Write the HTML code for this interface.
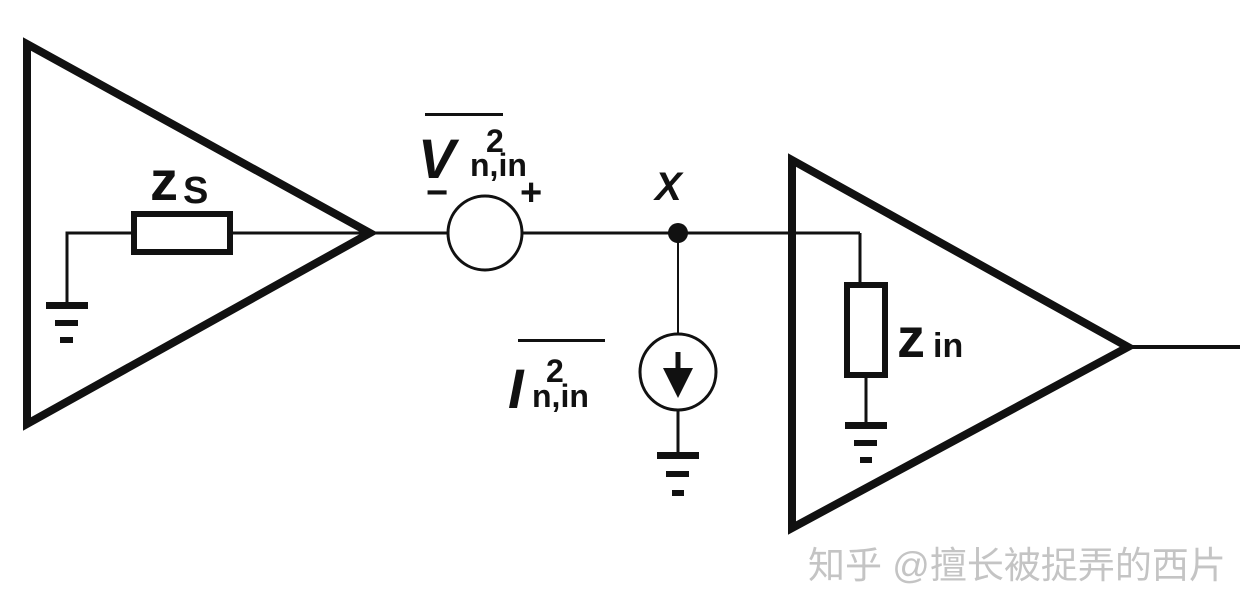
<!DOCTYPE html>
<html><head><style>
body{margin:0;background:#fff;width:1254px;height:611px;overflow:hidden}
text{font-family:"Liberation Sans","DejaVu Sans",sans-serif;font-weight:bold;fill:#111}
</style></head><body>
<svg width="1254" height="611" viewBox="0 0 1254 611" xmlns="http://www.w3.org/2000/svg">
<g stroke="#111" fill="none" stroke-linejoin="miter">
<polygon points="27,44 27,424 370,233" stroke-width="8"/>
<polygon points="792,160 792,528 1128,347" stroke-width="8"/>
<line x1="1128" y1="347" x2="1240" y2="347" stroke-width="4"/>
<polyline points="67,305 67,233 132,233" stroke-width="3"/>
<rect x="134" y="214" width="96" height="38" stroke-width="6"/>
<line x1="230" y1="233" x2="370" y2="233" stroke-width="3"/>
<line x1="372" y1="233" x2="448" y2="233" stroke-width="3"/>
<circle cx="485" cy="233" r="37" stroke-width="3"/>
<line x1="522" y1="233" x2="860" y2="233" stroke-width="3"/>
<polyline points="860,233 860,283" stroke-width="3"/>
<rect x="847" y="285" width="38" height="90" stroke-width="6"/>
<line x1="866" y1="375" x2="866" y2="425" stroke-width="3"/>
<line x1="678" y1="233" x2="678" y2="334" stroke-width="2"/>
<circle cx="678" cy="372" r="38" stroke-width="3"/>
<line x1="678" y1="410" x2="678" y2="455" stroke-width="3"/>
<line x1="678" y1="352" x2="678" y2="372" stroke-width="5"/>
</g>
<g fill="#111">
<circle cx="678" cy="233" r="10"/>
<polygon points="663,368 693,368 678,398"/>
<rect x="46" y="302" width="42" height="7"/><rect x="55" y="320" width="23" height="6"/><rect x="60" y="337" width="13" height="6"/>
<rect x="845" y="422" width="42" height="7"/><rect x="854" y="440" width="23" height="6"/><rect x="860" y="457" width="12" height="6"/>
<rect x="657" y="452" width="42" height="7"/><rect x="666" y="471" width="23" height="6"/><rect x="672" y="490" width="12" height="6"/>
<rect x="425" y="113" width="78" height="3"/>
<rect x="518" y="339" width="87" height="3"/>
</g>
<text x="150" y="200" font-size="56">z</text><text x="183" y="203" font-size="38">S</text>
<text x="418" y="178" font-size="56" font-style="italic">V</text>
<text x="486" y="152" font-size="32">2</text>
<text x="470" y="176" font-size="32">n,in</text>
<text x="426" y="205" font-size="38">−</text>
<text x="520" y="205" font-size="38">+</text>
<text x="655" y="200" font-size="40" font-style="italic">X</text>
<text x="508" y="408" font-size="56" font-style="italic">I</text>
<text x="546" y="382" font-size="32">2</text>
<text x="532" y="407" font-size="32">n,in</text>
<text x="897" y="357" font-size="56">z</text><text x="933" y="357" font-size="34">in</text>
<text x="808" y="578" font-size="37" style="font-family:'Liberation Sans','Noto Sans CJK SC',sans-serif;font-weight:normal;fill:#c4c4c4">知乎 @擅长被捉弄的西片</text>
</svg>
</body></html>
